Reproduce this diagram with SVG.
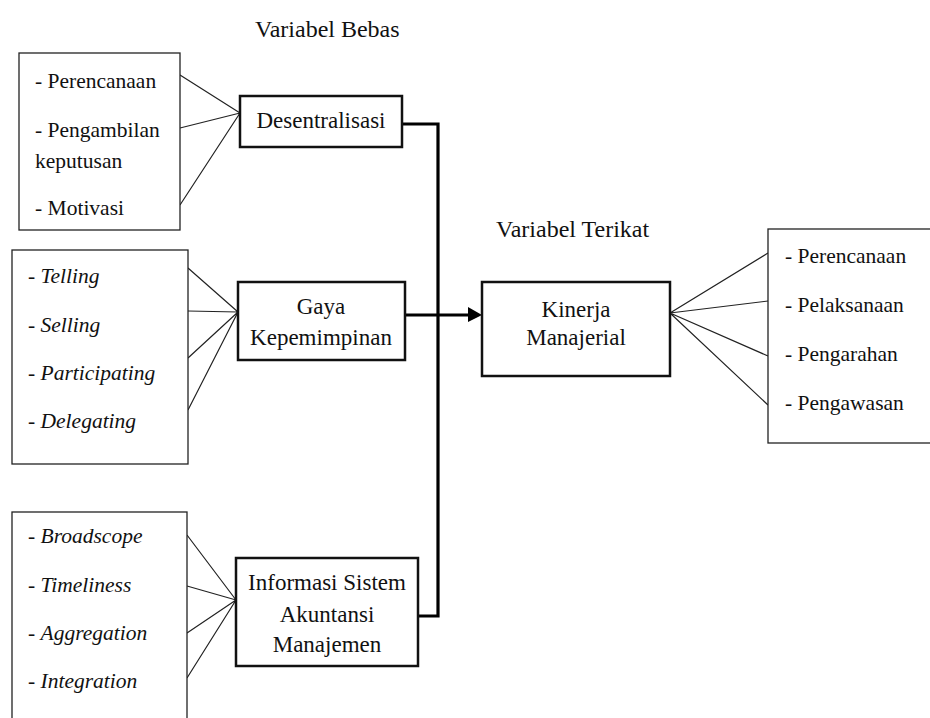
<svg xmlns="http://www.w3.org/2000/svg" width="930" height="718" viewBox="0 0 930 718">
<style>
text{font-family:"Liberation Serif","Times New Roman",serif;fill:#111;}
.t{font-size:24px;}
.n{font-size:23px;text-anchor:middle;}
.i{font-size:21.5px;}
.it{font-style:italic;}
.box{fill:#fff;stroke:#222;stroke-width:1.3;}
.node{fill:#fff;stroke:#111;stroke-width:2.5;}
.thin{stroke:#222;stroke-width:1.2;fill:none;}
.thick{stroke:#000;stroke-width:3.2;fill:none;}
</style>
<text class="t" x="255" y="37">Variabel Bebas</text>
<text class="t" x="496" y="237">Variabel Terikat</text>

<g id="connectors">
<path class="thin" d="M180 75 L240 113 M180 128 L240 113 M180 205 L240 113"/>
<path class="thin" d="M188 268 L238 312 M188 311 L238 312 M188 358 L238 312 M188 410 L238 312"/>
<path class="thin" d="M187 535 L236 600 M187 586 L236 600 M187 633 L236 600 M187 678 L236 600"/>
<path class="thin" d="M670 313 L768 253 M670 313 L768 301 M670 313 L768 356 M670 313 L768 405"/>
<path class="thick" d="M403 124 L438 124 L438 616 L418 616"/>
<path class="thick" d="M405 315 L470 315"/>
<polygon points="468,307 482,315 468,322" fill="#000"/>
</g>

<g id="ind-desentralisasi">
<rect class="box" x="19" y="53" width="161" height="177"/>
<text class="i" x="35" y="88">- Perencanaan</text>
<text class="i" x="35" y="137">- Pengambilan</text>
<text class="i" x="35" y="168">keputusan</text>
<text class="i" x="35" y="215">- Motivasi</text>
</g>

<g id="desentralisasi">
<rect class="node" x="240" y="96" width="162" height="51"/>
<text class="n" x="321" y="128">Desentralisasi</text>
</g>

<g id="ind-gaya">
<rect class="box" x="12" y="250" width="176" height="214"/>
<text class="i" x="28" y="283">- <tspan class="it">Telling</tspan></text>
<text class="i" x="28" y="332">- <tspan class="it">Selling</tspan></text>
<text class="i" x="28" y="380">- <tspan class="it">Participating</tspan></text>
<text class="i" x="28" y="428">- <tspan class="it">Delegating</tspan></text>
</g>

<g id="gaya">
<rect class="node" x="238" y="282" width="167" height="78"/>
<text class="n" x="321" y="314">Gaya</text>
<text class="n" x="321" y="345">Kepemimpinan</text>
</g>

<g id="ind-informasi">
<rect class="box" x="12" y="512" width="175" height="212"/>
<text class="i" x="28" y="543">- <tspan class="it">Broadscope</tspan></text>
<text class="i" x="28" y="592">- <tspan class="it">Timeliness</tspan></text>
<text class="i" x="28" y="640">- <tspan class="it">Aggregation</tspan></text>
<text class="i" x="28" y="688">- <tspan class="it">Integration</tspan></text>
</g>

<g id="informasi">
<rect class="node" x="236" y="558" width="182" height="108"/>
<text class="n" x="327" y="590">Informasi Sistem</text>
<text class="n" x="327" y="622">Akuntansi</text>
<text class="n" x="327" y="652">Manajemen</text>
</g>

<g id="kinerja">
<rect class="node" x="482" y="282" width="188" height="94"/>
<text class="n" x="576" y="317">Kinerja</text>
<text class="n" x="576" y="345">Manajerial</text>
</g>

<g id="ind-kinerja">
<rect class="box" x="768" y="229" width="170" height="214"/>
<text class="i" x="785" y="263">- Perencanaan</text>
<text class="i" x="785" y="312">- Pelaksanaan</text>
<text class="i" x="785" y="361">- Pengarahan</text>
<text class="i" x="785" y="410">- Pengawasan</text>
</g>
</svg>
